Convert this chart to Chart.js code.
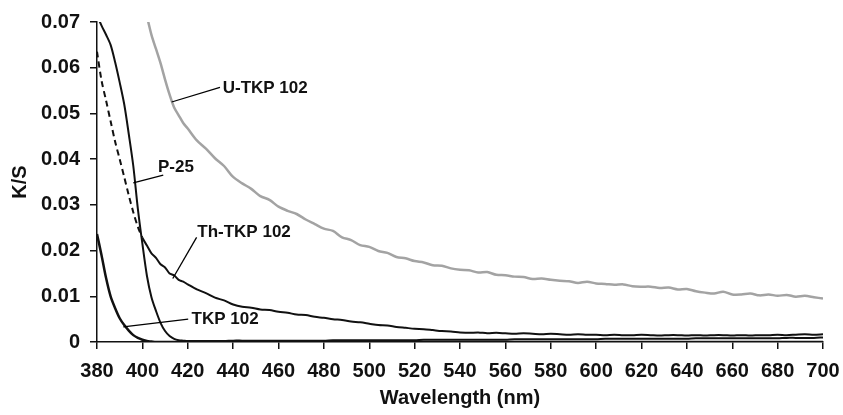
<!DOCTYPE html>
<html>
<head>
<meta charset="utf-8">
<script src="https://cdn.jsdelivr.net/npm/chart.js@4.4.1/dist/chart.umd.min.js"></script>
<style>
  html, body { margin: 0; padding: 0; background: #fff; }
  #wrap { width: 843px; height: 415px; }
</style>
</head>
<body>
<div id="wrap"><canvas id="ksChart"></canvas></div>
<script>
// wavelength (nm): 2 nm steps on the steep edge, 4 nm after
const wavelength = [
  380, 382, 384, 386, 388, 390, 392, 394, 396, 398, 400, 402, 404, 406, 408, 410, 412, 414, 416, 418, 420,
  424, 428, 432, 436, 440, 444, 448, 452, 456, 460,
  464, 468, 472, 476, 480, 484, 488, 492, 496, 500,
  504, 508, 512, 516, 520, 524, 528, 532, 536, 540,
  544, 548, 552, 556, 560, 564, 568, 572, 576, 580,
  584, 588, 592, 596, 600, 604, 608, 612, 616, 620,
  624, 628, 632, 636, 640, 644, 648, 652, 656, 660,
  664, 668, 672, 676, 680, 684, 688, 692, 696, 700
];

const uTkp102 = [
  null, null, null, null, null, null, null, null, null, null,
  0.0745, 0.0712, 0.0672, 0.0641, 0.0610, 0.0574, 0.0541, 0.0513, 0.0496, 0.0479, 0.0467,
  0.0441, 0.0423, 0.0402, 0.0385, 0.0361, 0.0347, 0.0335, 0.0319, 0.0311, 0.0296,
  0.0287, 0.0280, 0.0268, 0.0258, 0.0248, 0.0243, 0.0229, 0.0223, 0.0212, 0.0208,
  0.0199, 0.0195, 0.0186, 0.0183, 0.0177, 0.0174, 0.0168, 0.0167, 0.0161, 0.0158,
  0.0157, 0.0152, 0.0153, 0.0147, 0.0146, 0.0143, 0.0142, 0.0138, 0.0139, 0.0136,
  0.0134, 0.0133, 0.0129, 0.0132, 0.0128, 0.0127, 0.0125, 0.0126, 0.0122, 0.0121,
  0.0121, 0.0118, 0.0119, 0.0115, 0.0116, 0.0111, 0.0108, 0.0106, 0.0110, 0.0104,
  0.0104, 0.0106, 0.0102, 0.0104, 0.0101, 0.0103, 0.0099, 0.0101, 0.0098, 0.0095
];

const thTkp102 = [
  0.0635, 0.0572, 0.0528, 0.0483, 0.0438, 0.0400, 0.0361, 0.0321, 0.0284, 0.0252, 0.0228,
  0.0211, 0.0194, 0.0184, 0.0170, 0.0163, 0.0150, 0.0146, 0.0136, 0.0132, 0.0126,
  0.0115, 0.0107, 0.0097, 0.0091, 0.0082, 0.0077, 0.0075, 0.0071, 0.0070, 0.0066,
  0.0064, 0.0060, 0.0059, 0.0055, 0.0053, 0.0050, 0.0048, 0.0045, 0.0043, 0.0040,
  0.0037, 0.0036, 0.0033, 0.0031, 0.0029, 0.0028, 0.0026, 0.0024, 0.0023, 0.0021,
  0.0020, 0.0021, 0.0019, 0.0020, 0.0019, 0.0018, 0.0019, 0.0018, 0.0017, 0.0018,
  0.0017, 0.0016, 0.0017, 0.0016, 0.0016, 0.0015, 0.0016, 0.0015, 0.0015, 0.0016,
  0.0015, 0.0014, 0.0015, 0.0015, 0.0014, 0.0015, 0.0014, 0.0015, 0.0015, 0.0014,
  0.0015, 0.0014, 0.0015, 0.0015, 0.0016, 0.0015, 0.0016, 0.0017, 0.0016, 0.0017
];

const p25 = [
  0.0715, 0.0692, 0.0672, 0.0650, 0.0612, 0.0568, 0.0520, 0.0455, 0.0385, 0.0292, 0.0215,
  0.0145, 0.0098, 0.0068, 0.0042, 0.0024, 0.0013, 0.0007, 0.0004, 0.0003, 0.0002,
  0.0002, 0.0002, 0.0002, 0.0002, 0.0003, 0.0003, 0.0003, 0.0003, 0.0003, 0.0003,
  0.0003, 0.0003, 0.0003, 0.0003, 0.0003, 0.0004, 0.0004, 0.0004, 0.0004, 0.0004,
  0.0004, 0.0004, 0.0004, 0.0004, 0.0004, 0.0005, 0.0005, 0.0005, 0.0005, 0.0005,
  0.0005, 0.0005, 0.0005, 0.0005, 0.0005, 0.0006, 0.0006, 0.0006, 0.0006, 0.0006,
  0.0006, 0.0006, 0.0006, 0.0006, 0.0006, 0.0007, 0.0007, 0.0007, 0.0007, 0.0007,
  0.0007, 0.0007, 0.0007, 0.0007, 0.0007, 0.0008, 0.0008, 0.0008, 0.0008, 0.0008,
  0.0008, 0.0008, 0.0008, 0.0008, 0.0008, 0.0009, 0.0009, 0.0009, 0.0009, 0.0010
];

const tkp102 = [
  0.0236, 0.0190, 0.0140, 0.0100, 0.0074, 0.0052, 0.0037, 0.0025, 0.0015, 0.0009, 0.0005,
  0.0002, 0.0001, 0, 0, 0, 0, 0, 0, 0, 0,
  0, 0, 0, 0, 0, 0, 0, 0, 0, 0,
  0, 0, 0, 0, 0, 0, 0, 0, 0, 0,
  0, 0, 0, 0, 0, 0, 0, 0, 0, 0,
  0, 0, 0, 0, 0, 0, 0, 0, 0, 0,
  0, 0, 0, 0, 0, 0, 0, 0, 0, 0,
  0, 0, 0, 0, 0, 0, 0, 0, 0, 0,
  0, 0, 0, 0, 0, 0, 0, 0, 0, 0
];

const yTickLabels = ['0', '0.01', '0.02', '0.03', '0.04', '0.05', '0.06', '0.07'];

// curve labels with leader lines, in data units (nm, K/S)
const curveLabels = [
  { text: 'U-TKP 102', from: [412.9, 0.0525], to: [434.2, 0.0557], at: [435.4, 0.0555] },
  { text: 'P-25', from: [396.0, 0.0348], to: [409.2, 0.0365], at: [406.9, 0.0382] },
  { text: 'Th-TKP 102', from: [413.4, 0.0139], to: [423.9, 0.0229], at: [424.2, 0.0240] },
  { text: 'TKP 102', from: [391.6, 0.0033], to: [420.2, 0.0050], at: [421.7, 0.0050] }
];

const FONT = '"Liberation Sans", Arial, sans-serif';

function toPoints(ys) {
  return wavelength.map((x, i) => ({ x: x, y: ys[i] }));
}

const curveLabelPlugin = {
  id: 'curveLabels',
  afterDatasetsDraw(chart) {
    const ctx = chart.ctx;
    const xs = chart.scales.x, ys = chart.scales.y;
    ctx.save();
    ctx.strokeStyle = '#000';
    ctx.lineWidth = 1.3;
    ctx.fillStyle = '#111';
    ctx.font = 'bold 17px ' + FONT;
    ctx.textBaseline = 'middle';
    ctx.textAlign = 'left';
    curveLabels.forEach(l => {
      ctx.beginPath();
      ctx.moveTo(xs.getPixelForValue(l.from[0]), ys.getPixelForValue(l.from[1]));
      ctx.lineTo(xs.getPixelForValue(l.to[0]), ys.getPixelForValue(l.to[1]));
      ctx.stroke();
      ctx.fillText(l.text, xs.getPixelForValue(l.at[0]), ys.getPixelForValue(l.at[1]));
    });
    ctx.restore();
  }
};

const ctxKs = document.getElementById('ksChart').getContext('2d');
new Chart(ctxKs, {
  type: 'line',
  data: {
    datasets: [
      {
        label: 'U-TKP 102',
        data: toPoints(uTkp102),
        borderColor: '#a3a3a3',
        borderWidth: 2.5
      },
      {
        label: 'Th-TKP 102',
        data: toPoints(thTkp102),
        borderColor: '#111',
        borderWidth: 2,
        segment: {
          borderDash: c => c.p0.parsed.x < 400 ? [6, 4] : undefined
        }
      },
      {
        label: 'P-25',
        data: toPoints(p25),
        borderColor: '#111',
        borderWidth: 2
      },
      {
        label: 'TKP 102',
        data: toPoints(tkp102),
        borderColor: '#111',
        borderWidth: 2.5
      }
    ]
  },
  options: {
    responsive: true,
    maintainAspectRatio: false,
    animation: false,
    layout: { padding: { left: 0, top: 20, right: 20, bottom: 0 } },
    elements: {
      point: { radius: 0 },
      line: { tension: 0.3, fill: false }
    },
    plugins: {
      legend: { display: false },
      tooltip: { enabled: false }
    },
    scales: {
      x: {
        type: 'linear',
        min: 380,
        max: 700,
        afterFit: s => { s.height = 73; s.paddingRight = 20; s.paddingLeft = 0; },
        ticks: {
          stepSize: 20,
          color: '#111',
          padding: 10,
          maxRotation: 0,
          font: { family: FONT, size: 20, weight: 'bold' }
        },
        grid: { drawOnChartArea: false, tickLength: 7, color: '#111', lineWidth: 1.5 },
        border: { color: '#111', width: 1.5 },
        title: {
          display: true,
          text: 'Wavelength (nm)',
          color: '#111',
          padding: { top: 0, bottom: 5 },
          font: { family: FONT, size: 20, weight: 'bold' }
        }
      },
      y: {
        min: 0,
        max: 0.07,
        afterFit: s => { s.width = 97; },
        ticks: {
          stepSize: 0.01,
          color: '#111',
          padding: 10,
          callback: v => yTickLabels[Math.round(v * 100)],
          font: { family: FONT, size: 20, weight: 'bold' }
        },
        grid: { drawOnChartArea: false, tickLength: 7, color: '#111', lineWidth: 1.5 },
        border: { color: '#111', width: 1.5 },
        title: {
          display: true,
          text: 'K/S',
          color: '#111',
          padding: { top: 8, bottom: 0 },
          font: { family: FONT, size: 20, weight: 'bold' }
        }
      }
    }
  },
  plugins: [curveLabelPlugin]
});
</script>
</body>
</html>
